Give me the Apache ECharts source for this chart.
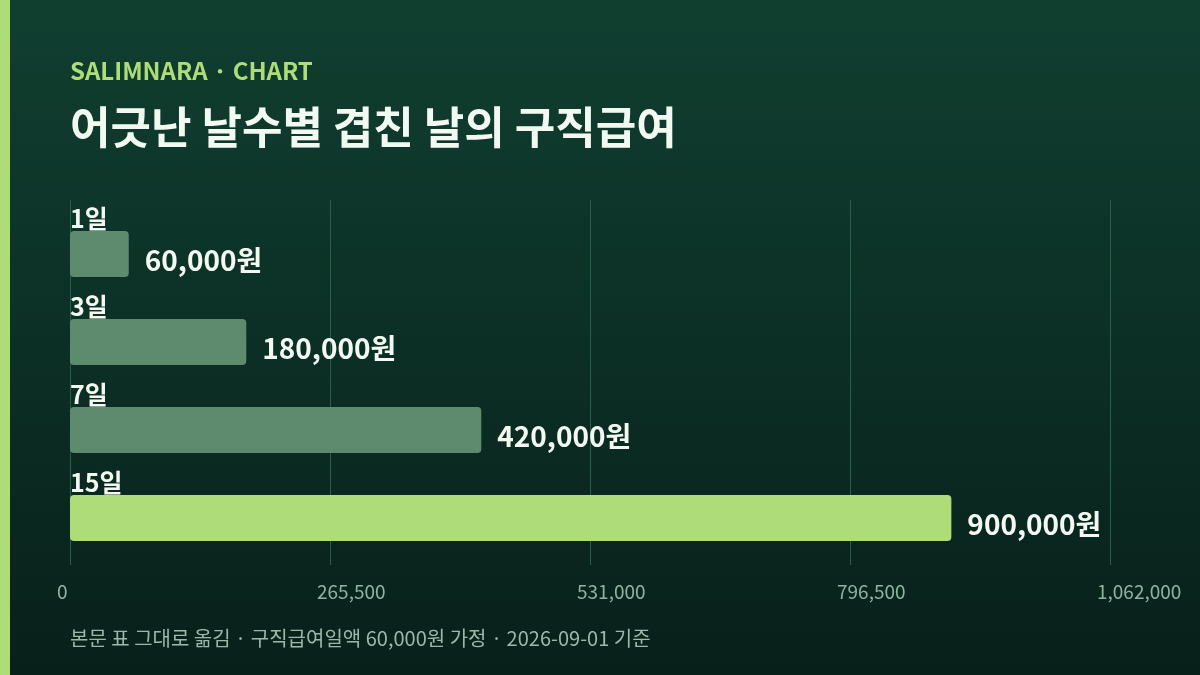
<!DOCTYPE html>
<html>
<head>
<meta charset="UTF-8">
<title>어긋난 날수별 겹친 날의 구직급여</title>
<script src="https://cdn.jsdelivr.net/npm/echarts@6/dist/echarts.min.js"></script>
<style>
  html, body { margin: 0; padding: 0; }
  body { width: 1200px; height: 675px; overflow: hidden; }
  #chart { width: 1200px; height: 675px; }
</style>
</head>
<body>
<div id="chart"></div>
<script>
// 데이터
var days = ['1일', '3일', '7일', '15일'];
var amounts = [60000, 180000, 420000, 900000];
var axisTicks = [0, 265500, 531000, 796500, 1062000];

var FONT = '"Noto Sans CJK KR", "Noto Sans", sans-serif';
var muted = '#5e8b6e';
var accent = '#addc79';

function fmt(v) {
  return String(v).replace(/\B(?=(\d{3})+(?!\d))/g, ',');
}

var chart = echarts.init(document.getElementById('chart'));

var option = {
  backgroundColor: {
    type: 'linear', x: 0, y: 0, x2: 0, y2: 1,
    colorStops: [
      { offset: 0, color: '#103f30' },
      { offset: 1, color: '#08201a' }
    ]
  },
  animation: false,
  graphic: [{
    type: 'rect',
    left: 0, top: 0,
    shape: { width: 10, height: 675 },
    style: { fill: accent }
  }],
  title: [
    {
      text: 'SALIMNARA · CHART',
      left: 70, top: 59, padding: 0,
      textStyle: { color: accent, fontSize: 24, fontWeight: 'bold', fontFamily: FONT }
    },
    {
      text: '어긋난 날수별 겹친 날의 구직급여',
      left: 70, top: 105, padding: 0,
      textStyle: { color: '#f2f8f2', fontSize: 44, fontWeight: 'bold', fontFamily: FONT }
    },
    {
      text: '본문 표 그대로 옮김 · 구직급여일액 60,000원 가정 · 2026-09-01 기준',
      left: 70, top: 628, padding: 0,
      textStyle: { color: '#9cb8a9', fontSize: 20, fontWeight: 'normal', fontFamily: FONT }
    }
  ],
  grid: [
    { left: 70, right: 90, top: 210, bottom: 113 },
    { left: 70, right: 90, top: 200, bottom: 110 }
  ],
  xAxis: [
    {
      gridIndex: 0,
      type: 'value',
      min: axisTicks[0],
      max: axisTicks[axisTicks.length - 1],
      interval: axisTicks[1] - axisTicks[0],
      show: false
    },
    {
      gridIndex: 1,
      type: 'value',
      min: axisTicks[0],
      max: axisTicks[axisTicks.length - 1],
      interval: axisTicks[1] - axisTicks[0],
      axisLine: { show: false },
      axisTick: { show: false },
      splitLine: { show: true, lineStyle: { color: '#285f48', width: 1 } },
      axisLabel: {
        color: '#8fb3a0',
        fontSize: 19,
        fontFamily: FONT,
        margin: 17,
        align: 'left',
        padding: [0, 0, 0, -13],
        formatter: function (v) { return fmt(v); }
      }
    }
  ],
  yAxis: [
    {
      gridIndex: 0,
      type: 'category',
      data: days,
      inverse: true,
      axisLine: { show: false },
      axisTick: { show: false },
      splitLine: { show: false },
      axisLabel: {
        inside: true,
        margin: 0,
        align: 'left',
        verticalAlign: 'bottom',
        padding: [0, 0, 22, 0],
        lineHeight: 28,
        color: '#f2f8f2',
        fontSize: 25,
        fontWeight: 'bold',
        fontFamily: FONT
      }
    },
    {
      gridIndex: 1,
      type: 'category',
      data: days,
      show: false
    }
  ],
  series: [{
    type: 'bar',
    xAxisIndex: 0,
    yAxisIndex: 0,
    barWidth: 46,
    data: amounts.map(function (v, i) {
      return {
        value: v,
        itemStyle: { color: i === amounts.length - 1 ? accent : muted }
      };
    }),
    itemStyle: { borderRadius: 4 },
    label: {
      show: true,
      position: 'right',
      distance: 16,
      offset: [0, 6],
      color: '#f2f8f2',
      fontSize: 28,
      fontWeight: 'bold',
      fontFamily: FONT,
      formatter: function (p) { return fmt(p.value) + '원'; }
    }
  }]
};

chart.setOption(option);
</script>
</body>
</html>
